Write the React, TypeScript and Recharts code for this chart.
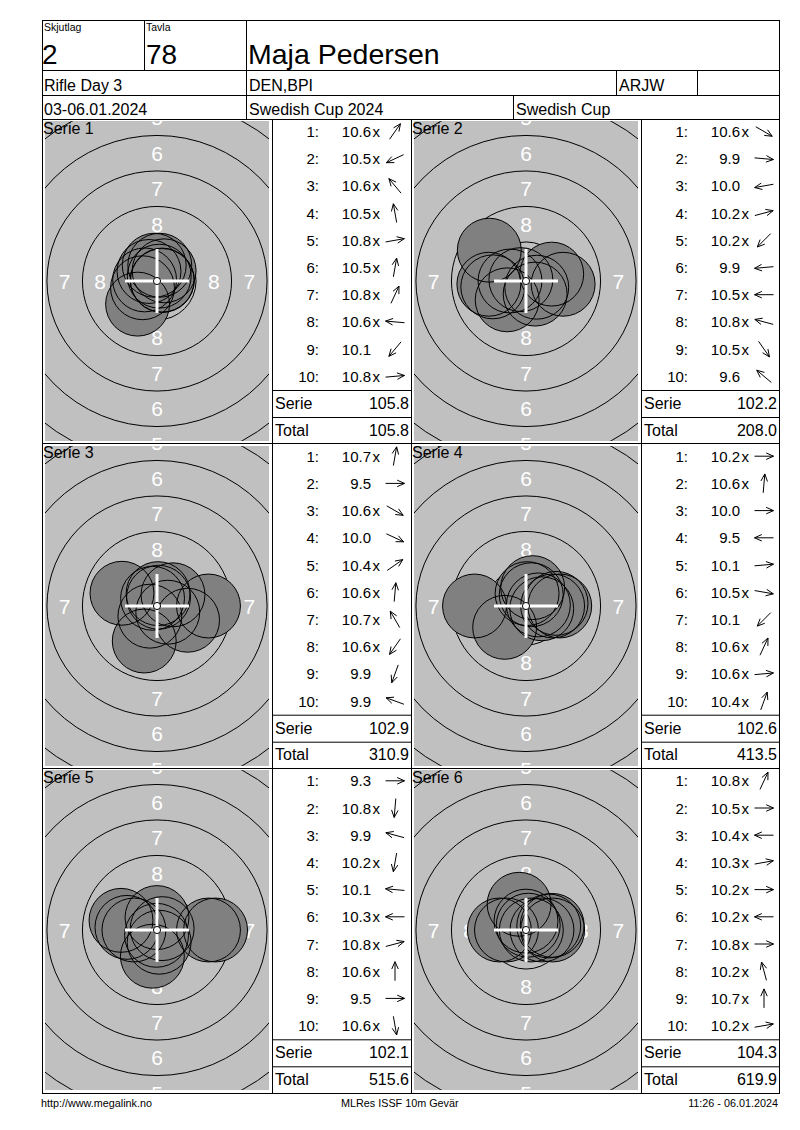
import React from 'react';
import { ScatterChart, Scatter, XAxis, YAxis } from 'recharts';

// --- data read from the score sheet ---
const SERIES_NAMES = ['Serie 1', 'Serie 2', 'Serie 3', 'Serie 4', 'Serie 5', 'Serie 6'];

const SCORES_1 = ['10.6x', '10.5x', '10.6x', '10.5x', '10.8x', '10.5x', '10.8x', '10.6x', '10.1', '10.8x'];
const SCORES_2 = ['10.6x', '9.9', '10.0', '10.2x', '10.2x', '9.9', '10.5x', '10.8x', '10.5x', '9.6'];
const SCORES_3 = ['10.7x', '9.5', '10.6x', '10.0', '10.4x', '10.6x', '10.7x', '10.6x', '9.9', '9.9'];
const SCORES_4 = ['10.2x', '10.6x', '10.0', '9.5', '10.1', '10.5x', '10.1', '10.6x', '10.6x', '10.4x'];
const SCORES_5 = ['9.3', '10.8x', '9.9', '10.2x', '10.1', '10.3x', '10.8x', '10.6x', '9.5', '10.6x'];
const SCORES_6 = ['10.8x', '10.5x', '10.4x', '10.3x', '10.2x', '10.2x', '10.8x', '10.2x', '10.7x', '10.2x'];

// shot direction in degrees (0 = right, 90 = up), read from the arrows
const ANGLES_1 = [55, 205, 130, 100, 10, 80, 65, 175, 230, 5];
const ANGLES_2 = [330, 355, 190, 15, 225, 185, 180, 165, 305, 140];
const ANGLES_3 = [80, 0, 330, 335, 35, 85, 120, 235, 250, 160];
const ANGLES_4 = [0, 85, 0, 180, 5, 350, 225, 65, 5, 70];
const ANGLES_5 = [0, 265, 165, 260, 175, 180, 15, 90, 0, 280];
const ANGLES_6 = [65, 0, 180, 10, 0, 180, 0, 105, 90, 10];

const SERIE_SUMS = ['105.8', '102.2', '102.9', '102.6', '102.1', '104.3'];
const TOTALS = ['105.8', '208.0', '310.9', '413.5', '515.6', '619.9'];

// ISSF 10m air rifle target, radii in mm (rings 9 .. 4)
const RING_RADII = [2.75, 5.25, 7.75, 10.25, 12.75, 15.25];
const RING_LABELS = ['8', '7', '6', '5'];
const RING_WIDTH = 2.5;
const PELLET_R = 2.25;
const TEN_DOT_R = 0.25;

const ALL_SCORES = [SCORES_1, SCORES_2, SCORES_3, SCORES_4, SCORES_5, SCORES_6];
const ALL_ANGLES = [ANGLES_1, ANGLES_2, ANGLES_3, ANGLES_4, ANGLES_5, ANGLES_6];

// --- layout ---
const FONT = '"Liberation Sans", Arial, sans-serif';
const TW = 224;
const TH = 320;
const K = 14.2; // px per mm
const XH = TW / 2 / K;
const YH = TH / 2 / K;

const FRAME_L = 42;
const FRAME_R = 779;
const FRAME_T = 20;
const FRAME_B = 1093;
const PANEL_TOPS = [119, 443.7, 768.3];
const TARGET_LEFTS = [42, 411];
const LIST_LEFTS = [272, 641];
const LIST_RIGHTS = [411, 779];
const ROW_STEP = 27.2;

const ringData = RING_RADII.map((r) => ({ x: 0, y: 0, r }));
// ring numbers on the four axes; the ones that fall wholly outside the card are left out
const labelData = RING_LABELS.flatMap((t, i) => {
  const m = (RING_RADII[i] + RING_RADII[i + 1]) / 2;
  return [
    { x: m, y: 0, t },
    { x: -m, y: 0, t },
    { x: 0, y: m, t },
    { x: 0, y: -m, t },
  ];
}).filter((d) => Math.abs(d.x) < XH && Math.abs(d.y) < YH + 0.6);
const centerData = [{ x: 0, y: 0 }];

function toShots(scores: string[], angles: number[]) {
  return scores.map((s, i) => {
    const d = (10.95 - parseFloat(s)) * RING_WIDTH;
    const a = (angles[i] * Math.PI) / 180;
    return { x: d * Math.cos(a), y: d * Math.sin(a) };
  });
}

const RingShape = (p: any) => (
  <circle cx={p.cx} cy={p.cy} r={p.payload.r * K} fill="none" stroke="#000" strokeWidth={1} />
);
const LabelShape = (p: any) => (
  <text x={p.cx} y={p.cy + 7.5} textAnchor="middle" fill="#fff" fontSize={21} fontFamily={FONT}>
    {p.payload.t}
  </text>
);
const ShotFill = (p: any) => <circle cx={p.cx} cy={p.cy} r={PELLET_R * K} fill="#808080" stroke="none" />;
const ShotEdge = (p: any) => (
  <circle cx={p.cx} cy={p.cy} r={PELLET_R * K} fill="none" stroke="#000" strokeWidth={1} />
);
const CrossShape = (p: any) => {
  const a = PELLET_R * K;
  return (
    <g>
      <line x1={p.cx - a} y1={p.cy} x2={p.cx + a} y2={p.cy} stroke="#fff" strokeWidth={3} />
      <line x1={p.cx} y1={p.cy - a} x2={p.cx} y2={p.cy + a} stroke="#fff" strokeWidth={3} />
      <circle cx={p.cx} cy={p.cy} r={TEN_DOT_R * K} fill="#fff" stroke="#000" strokeWidth={1} />
    </g>
  );
};

function Target({ idx, left, top }: { idx: number; left: number; top: number }) {
  const shots = toShots(ALL_SCORES[idx], ALL_ANGLES[idx]);
  return (
    <div style={{ position: 'absolute', left, top, width: TW, height: TH, background: '#c0c0c0', overflow: 'hidden' }}>
      <ScatterChart width={TW} height={TH} margin={{ top: 0, right: 0, bottom: 0, left: 0 }}>
        <XAxis type="number" dataKey="x" domain={[-XH, XH]} hide allowDataOverflow />
        <YAxis type="number" dataKey="y" domain={[-YH, YH]} hide allowDataOverflow />
        <Scatter data={ringData} shape={RingShape} isAnimationActive={false} />
        <Scatter data={labelData} shape={LabelShape} isAnimationActive={false} />
        <Scatter data={shots} shape={ShotFill} isAnimationActive={false} />
        <Scatter data={shots} shape={ShotEdge} isAnimationActive={false} />
        <Scatter data={centerData} shape={CrossShape} isAnimationActive={false} />
      </ScatterChart>
    </div>
  );
}

function Arrow({ cx, cy, deg }: { cx: number; cy: number; deg: number }) {
  const a = (deg * Math.PI) / 180;
  const ux = Math.cos(a);
  const uy = -Math.sin(a);
  const L = 9.5;
  const tx = cx + ux * L;
  const ty = cy + uy * L;
  const h = 8;
  const s = (24 * Math.PI) / 180;
  const rot = (sgn: number) => {
    const bx = -ux;
    const by = -uy;
    const c = Math.cos(sgn * s);
    const n = Math.sin(sgn * s);
    return [tx + (bx * c - by * n) * h, ty + (bx * n + by * c) * h];
  };
  const [h1x, h1y] = rot(1);
  const [h2x, h2y] = rot(-1);
  return (
    <g stroke="#000" strokeWidth={1} fill="none">
      <line x1={cx - ux * L} y1={cy - uy * L} x2={tx} y2={ty} />
      <polyline points={`${h1x},${h1y} ${tx},${ty} ${h2x},${h2y}`} />
    </g>
  );
}

function ScoreList({ idx, left, right, top }: { idx: number; left: number; right: number; top: number }) {
  const scores = ALL_SCORES[idx];
  const angles = ALL_ANGLES[idx];
  return (
    <g fontFamily={FONT} fill="#000">
      {scores.map((s, i) => {
        const cy = top + 12.5 + i * ROW_STEP;
        const num = s.replace('x', '');
        const inner = s.endsWith('x');
        return (
          <g key={i}>
            <text x={left + 47} y={cy + 5.5} fontSize={15} textAnchor="end">{`${i + 1}:`}</text>
            <text x={left + 99} y={cy + 5.5} fontSize={15} textAnchor="end">{num}</text>
            {inner && <text x={left + 100.5} y={cy + 5.5} fontSize={15}>x</text>}
            <Arrow cx={left + 123} cy={cy} deg={angles[i]} />
          </g>
        );
      })}
      <line x1={left} y1={top + 271.5} x2={right} y2={top + 271.5} stroke="#000" />
      <line x1={left} y1={top + 298.5} x2={right} y2={top + 298.5} stroke="#000" />
      <text x={left + 3} y={top + 290} fontSize={16}>Serie</text>
      <text x={right - 2} y={top + 290} fontSize={16} textAnchor="end">{SERIE_SUMS[idx]}</text>
      <text x={left + 3} y={top + 316.5} fontSize={16}>Total</text>
      <text x={right - 2} y={top + 316.5} fontSize={16} textAnchor="end">{TOTALS[idx]}</text>
    </g>
  );
}

export default function App() {
  const v = (x: number, y1: number, y2: number, k: string) => (
    <line key={k} x1={x + 0.5} y1={y1} x2={x + 0.5} y2={y2} stroke="#000" />
  );
  const hl = (y: number, x1: number, x2: number, k: string) => (
    <line key={k} x1={x1} y1={y + 0.5} x2={x2} y2={y + 0.5} stroke="#000" />
  );
  const panels = [0, 1, 2, 3, 4, 5].map((i) => ({ i, row: Math.floor(i / 2), col: i % 2 }));

  return (
    <div style={{ position: 'absolute', left: 0, top: 0, width: 800, height: 1130, background: '#fff', fontFamily: FONT }}>
      {panels.map(({ i, row, col }) => (
        <Target key={i} idx={i} left={TARGET_LEFTS[col] + 3} top={PANEL_TOPS[row] + 2} />
      ))}
      <svg width={800} height={1130} style={{ position: 'absolute', left: 0, top: 0 }}>
        <g shapeRendering="crispEdges">
          <rect x={FRAME_L + 0.5} y={FRAME_T + 0.5} width={FRAME_R - FRAME_L} height={FRAME_B - FRAME_T} fill="none" stroke="#000" />
          {hl(70, FRAME_L, FRAME_R, 'h1')}
          {hl(95, FRAME_L, FRAME_R, 'h2')}
          {hl(119, FRAME_L, FRAME_R, 'h3')}
          {hl(443, FRAME_L, FRAME_R, 'h4')}
          {hl(768, FRAME_L, FRAME_R, 'h5')}
          {v(144, FRAME_T, 70, 'v1')}
          {v(246, FRAME_T, 119, 'v2')}
          {v(616, 70, 95, 'v3')}
          {v(697, 70, 95, 'v4')}
          {v(513, 95, 119, 'v5')}
          {v(272, 119, FRAME_B, 'v6')}
          {v(411, 119, FRAME_B, 'v7')}
          {v(641, 119, FRAME_B, 'v8')}
        </g>

        <g fontFamily={FONT} fill="#000">
          <text x={44} y={31} fontSize={10.5}>Skjutlag</text>
          <text x={146} y={31} fontSize={10.5}>Tavla</text>
          <text x={42} y={64} fontSize={28}>2</text>
          <text x={146} y={64} fontSize={28}>78</text>
          <text x={248} y={64} fontSize={28.5}>Maja Pedersen</text>
          <text x={44} y={91} fontSize={16}>Rifle Day 3</text>
          <text x={249} y={91} fontSize={16}>DEN,BPI</text>
          <text x={619} y={91} fontSize={16}>ARJW</text>
          <text x={44} y={115} fontSize={16}>03-06.01.2024</text>
          <text x={249} y={115} fontSize={16}>Swedish Cup 2024</text>
          <text x={516} y={115} fontSize={16}>Swedish Cup</text>
        </g>

        {panels.map(({ i, row, col }) => (
          <g key={`p${i}`}>
            <text x={TARGET_LEFTS[col] + 1} y={PANEL_TOPS[row] + 14.5} fontSize={16} fontFamily={FONT} fill="#000">
              {SERIES_NAMES[i]}
            </text>
            <ScoreList idx={i} left={LIST_LEFTS[col]} right={LIST_RIGHTS[col]} top={PANEL_TOPS[row]} />
          </g>
        ))}

        <g fontFamily={FONT} fill="#000" fontSize={10.8}>
          <text x={41} y={1107}>http://www.megalink.no</text>
          <text x={341} y={1107}>MLRes ISSF 10m Gevär</text>
          <text x={778} y={1107} textAnchor="end">11:26 - 06.01.2024</text>
        </g>
      </svg>
    </div>
  );
}
